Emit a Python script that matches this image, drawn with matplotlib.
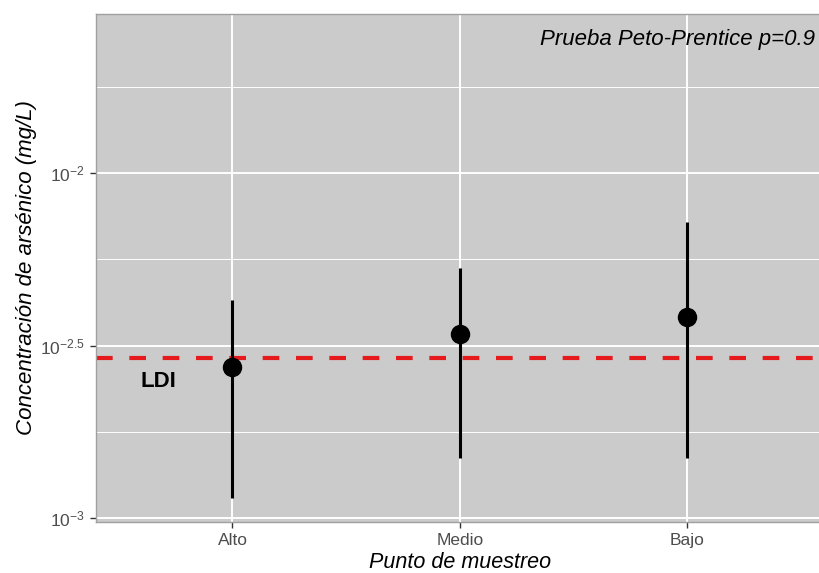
import numpy as np
import matplotlib
matplotlib.use("Agg")
import matplotlib.pyplot as plt
from matplotlib.ticker import FixedLocator, FuncFormatter

plt.rcParams["font.family"] = ["Liberation Sans", "DejaVu Sans"]
plt.rcParams["mathtext.default"] = "regular"

# data (mg/L)
sites = ["Alto", "Medio", "Bajo"]
conc = [0.00274, 0.00341, 0.00383]
conc_low = [0.00114, 0.00149, 0.00149]
conc_high = [0.00428, 0.00531, 0.00721]
ldi = 0.0029

PANEL = "#CBCBCB"
GRID = "#FFFFFF"
TEXT = "#4D4D4D"

fig = plt.figure(figsize=(8.2, 5.73), dpi=100)
# panel runs slightly past the right edge, as in the reference crop
ax = fig.add_axes([96 / 820, 1 - 522 / 573, 728 / 820, 508 / 573])
ax.set_facecolor(PANEL)

x = np.arange(1, len(sites) + 1)
ax.set_yscale("log")
ax.set_ylim(10 ** -3.0116, 10 ** -1.539)
ax.set_xlim(0.4, 3.6)

major = [10 ** -3, 10 ** -2.5, 10 ** -2]
minor = [10 ** -2.75, 10 ** -2.25, 10 ** -1.75]
ax.yaxis.set_major_locator(FixedLocator(major))
ax.yaxis.set_minor_locator(FixedLocator(minor))
ax.yaxis.set_major_formatter(FuncFormatter(
    lambda v, _: "$10^{%s}$" % (f"{np.log10(v):g}")))
ax.yaxis.set_minor_formatter(FuncFormatter(lambda v, _: ""))
ax.set_xticks(x)
ax.set_xticklabels(sites)

ax.grid(True, which="major", color=GRID, linewidth=1.4)
ax.grid(True, which="minor", axis="y", color=GRID, linewidth=0.7)
ax.set_axisbelow(True)

ax.tick_params(axis="both", which="major", colors="#333333", labelcolor=TEXT,
               labelsize=12.5, length=4.5, width=1)
ax.tick_params(axis="y", which="minor", length=0)
for s in ax.spines.values():
    s.set_color("#A0A0A0")
    s.set_linewidth(1)

ax.axhline(ldi, color="#E41A1C", linewidth=3, linestyle=(0, (4, 4)), zorder=2)

for xi, c, lo, hi in zip(x, conc, conc_low, conc_high):
    ax.plot([xi, xi], [lo, hi], color="black", linewidth=2.2, zorder=3,
            solid_capstyle="butt")
ax.plot(x, conc, "o", color="black", markersize=13, zorder=4)

ax.text(0.675, ldi * 0.86, "LDI", fontsize=16, fontweight="bold",
        ha="center", va="center", color="black")
fig.text(815 / 820, 1 - 40 / 573, "Prueba Peto-Prentice p=0.9",
         fontsize=16, style="italic", ha="right", va="center", color="black")

ax.set_xlabel("Punto de muestreo", fontsize=15.5, style="italic", labelpad=3)
ax.set_ylabel("Concentración de arsénico (mg/L)", fontsize=16,
              style="italic", labelpad=2)

fig.savefig("out.png", dpi=100)
